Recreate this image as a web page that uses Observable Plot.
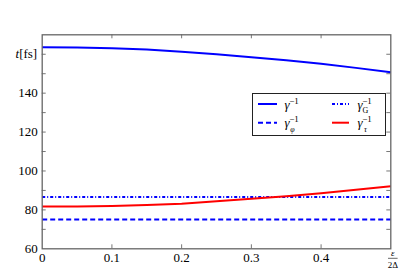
<!DOCTYPE html>
<html><head><meta charset="utf-8">
<script src="https://cdn.jsdelivr.net/npm/d3@7"></script>
<script src="https://cdn.jsdelivr.net/npm/@observablehq/plot@0.6"></script>
<style>
body{margin:0;background:#fff}
svg text, svg tspan { font-family: "Liberation Serif", "Times New Roman", serif; }
</style>
</head><body><div id="chart"></div>
<script>
// ---- data ----
const epsilon    = [0, 0.05, 0.1, 0.15, 0.2, 0.25, 0.3, 0.35, 0.4, 0.45, 0.5];
const gammaInv   = [163.6, 163.5, 163.1, 162.4, 161.3, 160.0, 158.5, 156.9, 155.1, 153.0, 150.8];
const gammaPhiInv= [75, 75, 75, 75, 75, 75, 75, 75, 75, 75, 75];
const gammaGInv  = [86.6, 86.6, 86.6, 86.6, 86.6, 86.6, 86.6, 86.6, 86.6, 86.6, 86.6];
const gammaTauInv= [81.7, 81.8, 82.0, 82.5, 83.2, 84.4, 85.7, 87.0, 88.6, 90.3, 92.1];

const xTicks      = [0, 0.1, 0.2, 0.3, 0.4, 0.5];
const xTickLabels = ["0", "0.1", "0.2", "0.3", "0.4", ""];
const xInnerTicks = [0.1, 0.2, 0.3, 0.4];
const yTicks      = [60, 80, 100, 120, 140, 160];
const yTickLabels = ["60", "80", "100", "120", "140", ""];
const yInnerTicks = [70, 80, 90, 100, 110, 120, 130, 140, 150, 160];

const seriesNames = ["gamma", "gammaPhi", "gammaG", "gammaTau"];
const seriesValues = [gammaInv, gammaPhiInv, gammaGInv, gammaTauInv];
const seriesColors = ["#0000ff", "#0000ff", "#0000ff", "#ff0000"];
const seriesDash   = [null, "5,3", "3,2,1,2", null];
const legendSymbols= [["γ", "", ""], ["γ", "φ", "italic"], ["γ", "G", "normal"], ["γ", "τ", "italic"]];
const legendOrder  = [0, 1, 2, 3]; // column-major: (solid, dashed) | (dash-dot, red)

// ---- layout ----
const W = 415, H = 277;
const mL = 41.7, mR = 24.7, mT = 34.3, mB = 28.7;
const innerW = W - mL - mR, innerH = H - mT - mB;
const tickLen = 4;
const FONT = "'Liberation Serif', 'Times New Roman', serif";

const lineMarks = seriesNames.map((name, i) =>
  Plot.line(epsilon.map((e, j) => ({x: e, y: seriesValues[i][j]})), {
    x: "x", y: "y", stroke: seriesColors[i], strokeWidth: 2,
    strokeDasharray: seriesDash[i], strokeLinecap: "butt"
  })
);

const plot = Plot.plot({
  width: W, height: H,
  marginLeft: mL, marginRight: mR, marginTop: mT, marginBottom: mB,
  style: {fontFamily: FONT, fontSize: "13px", background: "#fff", color: "#000"},
  x: {domain: [0, 0.5]},
  y: {domain: [60, 170]},
  marks: [
    Plot.tickY(yInnerTicks, {y: d => d, stroke: "#777", insetRight: innerW - tickLen}),
    Plot.tickY(yInnerTicks, {y: d => d, stroke: "#777", insetLeft: innerW - tickLen}),
    Plot.tickX(xInnerTicks, {x: d => d, stroke: "#777", insetTop: innerH - tickLen}),
    Plot.tickX(xInnerTicks, {x: d => d, stroke: "#777", insetBottom: innerH - tickLen}),
    ...lineMarks,
    Plot.frame({stroke: "#666", strokeWidth: 1.3}),
    Plot.axisX({ticks: xTicks, tickFormat: (d, i) => xTickLabels[i], tickSize: 0, tickPadding: 4, label: null}),
    Plot.axisY({ticks: yTicks, tickFormat: (d, i) => yTickLabels[i], tickSize: 0, tickPadding: 4.5, label: null})
  ]
});
document.getElementById("chart").appendChild(plot);

const svg = d3.select(plot);
const xs = plot.scale("x"), ys = plot.scale("y");

// t[fs] at the 160 tick position
const tl = svg.append("text")
  .attr("x", xs.apply(0) - 4.5).attr("y", ys.apply(160)).attr("dy", "0.32em")
  .attr("text-anchor", "end").attr("font-size", 13);
tl.append("tspan").attr("font-style", "italic").text("t");
tl.append("tspan").text("[fs]");

// ε / 2Δ at the 0.5 tick position
const fx = xs.apply(0.5) + 2.5, fy = ys.apply(60);
svg.append("text").attr("x", fx).attr("y", fy + 8).attr("text-anchor", "middle")
  .attr("font-style", "italic").attr("font-size", 9).text("ε");
svg.append("line").attr("x1", fx - 4.8).attr("x2", fx + 4.8).attr("y1", fy + 10).attr("y2", fy + 10)
  .attr("stroke", "#000").attr("stroke-width", 0.6);
svg.append("text").attr("x", fx).attr("y", fy + 19.5).attr("text-anchor", "middle")
  .attr("font-size", 9).text("2Δ");

// legend
const lg = svg.append("g");
lg.append("rect").attr("x", 252.5).attr("y", 93.5).attr("width", 133).attr("height", 42)
  .attr("fill", "#fff").attr("stroke", "#222").attr("stroke-width", 1);
const colX = [258, 332], rowY = [104, 122.7], sampleW = [19, 17], textX = [287, 360];
legendOrder.forEach((si, k) => {
  const c = Math.floor(k / 2), r = k % 2;
  lg.append("line").attr("x1", colX[c]).attr("x2", colX[c] + sampleW[c])
    .attr("y1", rowY[r]).attr("y2", rowY[r])
    .attr("stroke", seriesColors[si]).attr("stroke-width", 2)
    .attr("stroke-dasharray", seriesDash[si]);
  const [sym, sub, subStyle] = legendSymbols[si];
  const t = lg.append("text").attr("x", textX[c]).attr("y", rowY[r] + 4.5).attr("font-size", 13);
  const g = t.append("tspan").attr("font-style", "italic").text(sym);
  const w = g.node().getComputedTextLength();
  t.append("tspan").attr("x", textX[c] + w + 1.8).attr("y", rowY[r] - 0.5)
    .attr("font-size", 9).text("−1");
  if (sub) t.append("tspan").attr("x", textX[c] + w + 0.3).attr("y", rowY[r] + 9)
    .attr("font-size", 8).attr("font-style", subStyle).text(sub);
});
</script>
</body></html>
